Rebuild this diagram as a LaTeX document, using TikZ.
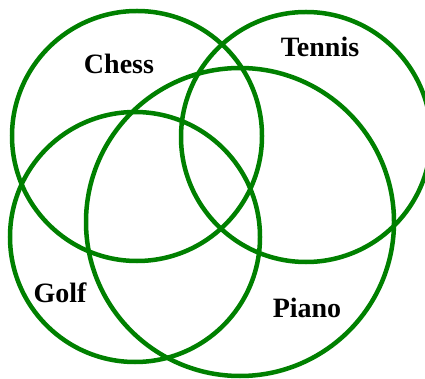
\documentclass[tikz,border=0pt]{standalone}
\usepackage{fontspec}
\setmainfont{Liberation Serif}
\usepackage{tikz}
\definecolor{venngreen}{HTML}{008000}

\begin{document}
\begin{tikzpicture}[x=1pt,y=-1pt,
  ring/.style={draw=venngreen,line width=4.5pt},
  setlabel/.style={font=\fontsize{28}{30}\selectfont\bfseries,anchor=base,inner sep=0pt}
]
  \useasboundingbox (0,0) rectangle (425,379);

  \draw[ring] (137,136) circle[radius=125];
  \draw[ring] (306,137) circle[radius=125];
  \draw[ring] (135,237) circle[radius=125];
  \draw[ring] (240,222) circle[radius=154];

  \node[setlabel] (chess) at (119,74) {Chess};
  \node[setlabel] (tennis) at (320,57) {Tennis};
  \node[setlabel] (golf) at (60,302) {Golf};
  \node[setlabel] (piano) at (307,317) {Piano};
\end{tikzpicture}
\end{document}
